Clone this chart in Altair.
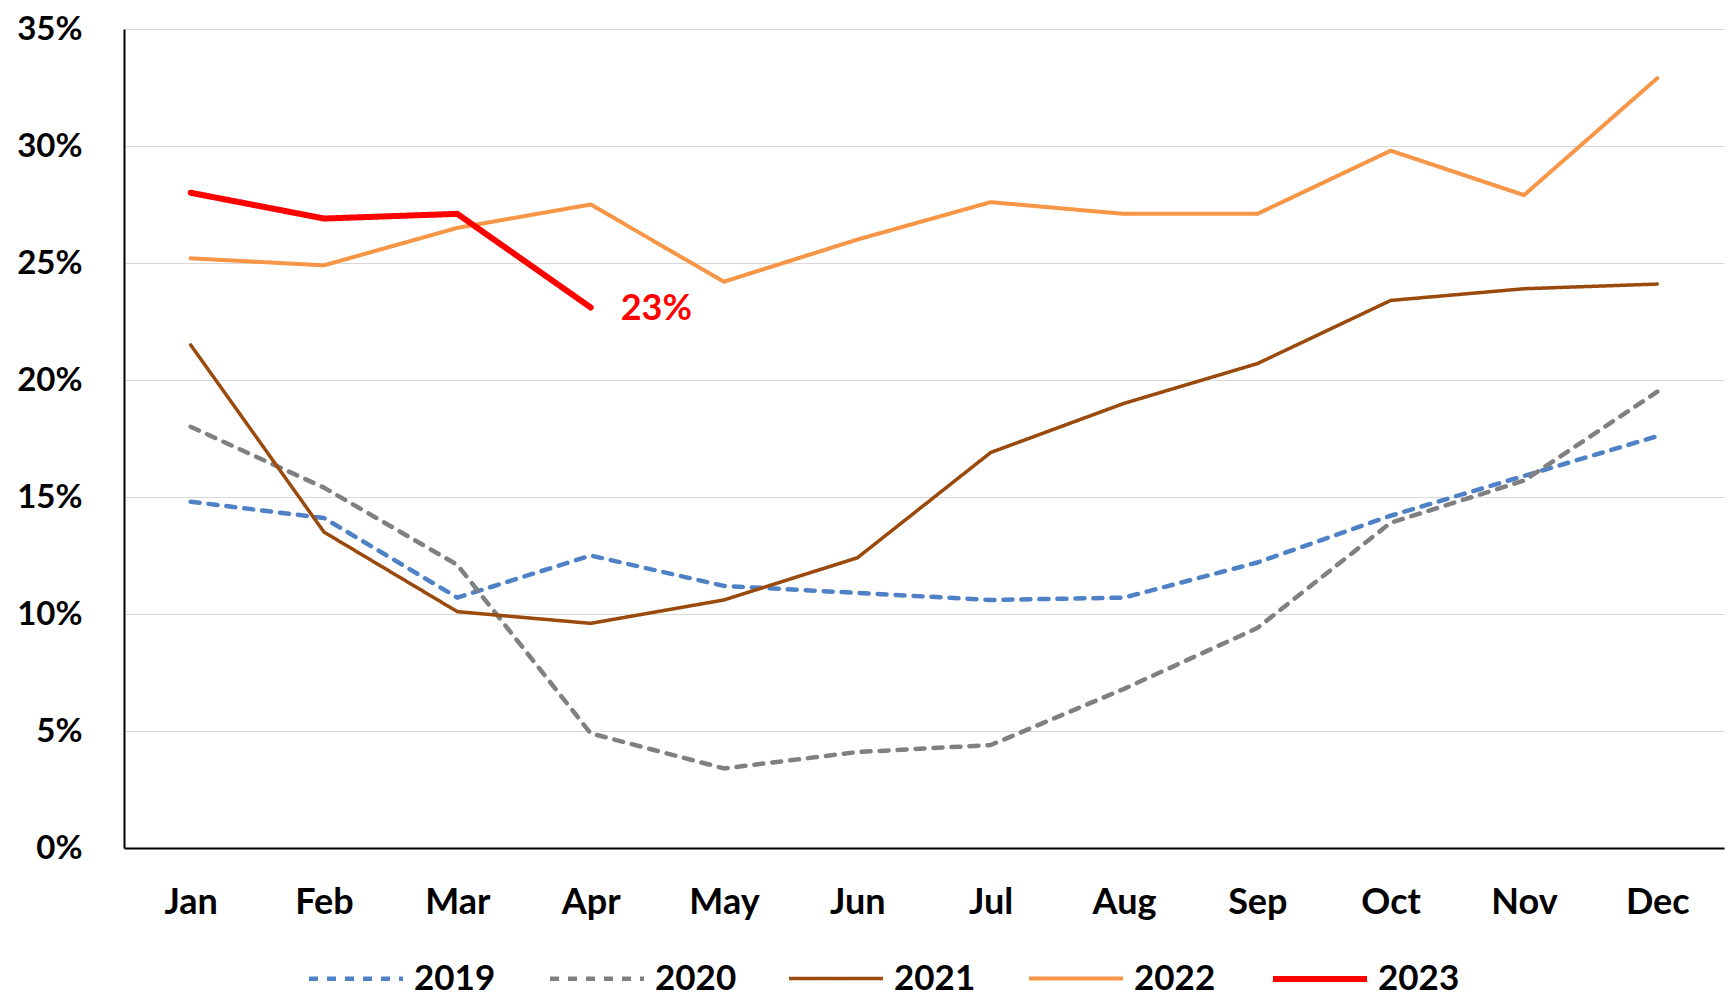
import altair as alt
import pandas as pd

months = ["Jan", "Feb", "Mar", "Apr", "May", "Jun", "Jul", "Aug", "Sep", "Oct", "Nov", "Dec"]
years = ["2019", "2020", "2021", "2022", "2023"]

v2019 = [14.8, 14.1, 10.7, 12.5, 11.2, 10.9, 10.6, 10.7, 12.2, 14.2, 15.9, 17.6]
v2020 = [18.0, 15.4, 12.1, 4.9, 3.4, 4.1, 4.4, 6.8, 9.4, 13.9, 15.7, 19.5]
v2021 = [21.5, 13.5, 10.1, 9.6, 10.6, 12.4, 16.9, 19.0, 20.7, 23.4, 23.9, 24.1]
v2022 = [25.2, 24.9, 26.5, 27.5, 24.2, 26.0, 27.6, 27.1, 27.1, 29.8, 27.9, 32.9]
v2023 = [28.0, 26.9, 27.1, 23.1]

colors = ["#4F81C7", "#808080", "#9A4A0C", "#F79646", "#FF0000"]
dashes = [[9, 9], [9, 9], [1, 0], [1, 0], [1, 0]]
widths = [4.5, 4.5, 3.5, 4, 6]

y_ticks = [0, 5, 10, 15, 20, 25, 30, 35]

annot_month = ["Apr"]
annot_value = [23.1]
annot_text = ["23%"]

series = [v2019, v2020, v2021, v2022, v2023]
rows = []
for yr, vals in zip(years, series):
    for m, v in zip(months, vals):
        rows.append({"month": m, "value": v, "year": yr})
df = pd.DataFrame(rows)

ann = pd.DataFrame({"month": annot_month, "value": annot_value, "label": annot_text})

FONT = "Lato"

x_enc = alt.X("month:O", sort=months,
              scale=alt.Scale(type="point", padding=0.5, domain=months),
              axis=alt.Axis(title=None, labelAngle=0, ticks=False, grid=False,
                            domainColor="black", domainWidth=2,
                            labelFont=FONT, labelFontSize=36, labelFontWeight="bold",
                            labelColor="black", labelPadding=37))
y_enc = alt.Y("value:Q",
              scale=alt.Scale(domain=[0, 35], nice=False, zero=True),
              axis=alt.Axis(title=None, values=y_ticks, labelExpr="datum.value + '%'",
                            ticks=False, grid=True, gridColor="#D9D9D9", gridWidth=1.2,
                            domainColor="black", domainWidth=2,
                            labelFont=FONT, labelFontSize=33, labelFontWeight="bold",
                            labelColor="black", labelPadding=42))

lines = alt.Chart(df).mark_line(strokeCap="round", strokeJoin="round").encode(
    x=x_enc,
    y=y_enc,
    color=alt.Color("year:N", scale=alt.Scale(domain=years, range=colors), legend=alt.Legend(title=None)),
    strokeDash=alt.StrokeDash("year:N", scale=alt.Scale(domain=years, range=dashes), legend=alt.Legend(title=None)),
    strokeWidth=alt.StrokeWidth("year:N", scale=alt.Scale(type="ordinal", domain=years, range=widths),
                                legend=alt.Legend(title=None)),
    detail="year:N",
)

label = alt.Chart(ann).mark_text(align="left", baseline="middle", dx=30, dy=2,
                                 font=FONT, fontSize=36, fontWeight="bold", color="#FF0000").encode(
    x=alt.X("month:O", sort=months, scale=alt.Scale(type="point", padding=0.5, domain=months)),
    y=alt.Y("value:Q"),
    text="label:N",
)

chart = alt.layer(lines, label).properties(
    width=1600, height=819,
    autosize=alt.AutoSizeParams(type="none"),
    padding={"left": 116, "top": 21, "right": 1, "bottom": 149},
).configure_view(stroke=None).configure_legend(
    orient="none", legendX=182, legendY=900, direction="horizontal", columns=5,
    symbolType="stroke", symbolSize=8836, labelFont=FONT, labelFontSize=35,
    labelFontWeight="bold", labelColor="black", labelOffset=8, columnPadding=45,
    padding=0,
)

chart.save("out.html", embed_options={"renderer": "svg", "actions": False})
